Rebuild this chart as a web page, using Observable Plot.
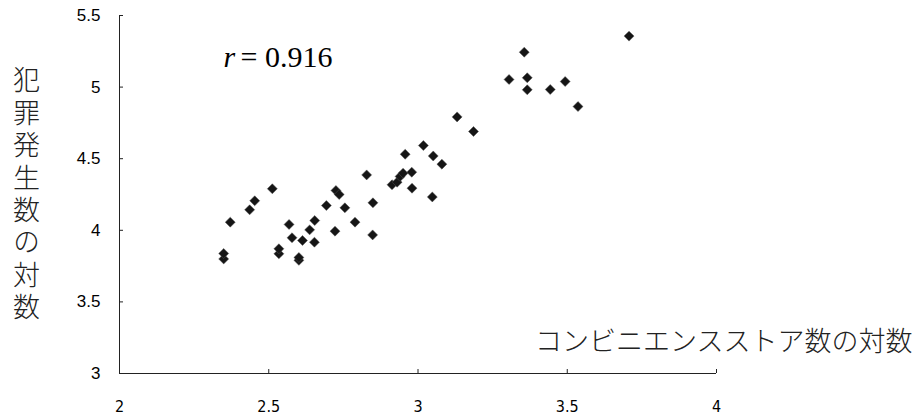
<!DOCTYPE html>
<html><head><meta charset="utf-8">
<script src="https://cdn.jsdelivr.net/npm/d3@7"></script>
<script src="https://cdn.jsdelivr.net/npm/@observablehq/plot@0.6"></script>
<style>body{margin:0;background:#fff;overflow:hidden}</style>
</head><body><div id="chart"></div>
<script>
// log of convenience-store counts (x) and log of crime counts (y), per prefecture
const storeLog = [2.349, 2.349, 2.371, 2.436, 2.453, 2.512, 2.534, 2.534, 2.568, 2.578,
  2.601, 2.601, 2.613, 2.637, 2.654, 2.653, 2.693, 2.722, 2.725, 2.736,
  2.755, 2.789, 2.828, 2.849, 2.848, 2.913, 2.930, 2.940, 2.950, 2.957,
  2.979, 2.980, 3.018, 3.051, 3.080, 3.048, 3.131, 3.186, 3.305, 3.356,
  3.366, 3.366, 3.443, 3.493, 3.536, 3.707];
const crimeLog = [3.800, 3.838, 4.057, 4.143, 4.206, 4.290, 3.836, 3.871, 4.041, 3.948,
  3.790, 3.810, 3.929, 4.003, 4.068, 3.917, 4.173, 3.994, 4.278, 4.250,
  4.157, 4.057, 4.387, 4.192, 3.968, 4.318, 4.336, 4.376, 4.399, 4.531,
  4.406, 4.294, 4.592, 4.519, 4.462, 4.233, 4.792, 4.690, 5.053, 5.244,
  5.065, 4.981, 4.983, 5.039, 4.864, 5.356];
const xTicks = [2, 2.5, 3, 3.5, 4];
const yTicks = [3, 3.5, 4, 4.5, 5, 5.5];
const xTitle = "コンビニエンスストア数の対数";
const yTitle = "犯罪発生数の対数";
const rSymbol = "r";
const rValue = "= 0.916";

const points = storeLog.map((x, i) => ({x, y: crimeLog[i]}));
const cjk = "'Noto Sans CJK JP', sans-serif";

const chart = Plot.plot({
  width: 917, height: 419,
  marginLeft: 119, marginRight: 201, marginTop: 15, marginBottom: 46,
  x: {domain: [2, 4]},
  y: {domain: [3, 5.5]},
  style: {background: "#fff", color: "#000", overflow: "visible"},
  marks: [
    Plot.ruleY([3], {stroke: "#222", strokeWidth: 1}),
    Plot.ruleX([2], {stroke: "#222", strokeWidth: 1}),
    Plot.axisX({ticks: xTicks, tickSize: -4, tickPadding: 31, tickFormat: d => String(d),
      fontSize: 16, fontFamily: "'Liberation Sans Narrow', 'DejaVu Sans Condensed', sans-serif", label: null, stroke: "#222"}),
    Plot.axisY({ticks: yTicks, tickSize: -4, tickPadding: 23, tickFormat: d => String(d),
      fontSize: 17, fontFamily: "'Liberation Sans', Arial, sans-serif", label: null, stroke: "#222"}),
    Plot.dot(points, {x: "x", y: "y", symbol: "diamond2", r: 4.5, fill: "#151515", stroke: "#555", strokeWidth: 0.5}),
    Plot.text([yTitle], {text: d => d, frameAnchor: "left", dx: -93, dy: -7, textAnchor: "middle",
      fontSize: 27, fontFamily: cjk, fontWeight: 300, fill: "#222"}),
    Plot.text([xTitle], {text: d => d, frameAnchor: "bottom-right", textAnchor: "end", dx: 196, dy: -31,
      lineAnchor: "middle", fontSize: 27, fontFamily: cjk, fontWeight: 300, fill: "#222"}),
    Plot.text([rSymbol], {text: d => d, frameAnchor: "top-left", textAnchor: "start", dx: 104, dy: 42,
      lineAnchor: "middle", fontSize: 30, fontStyle: "italic", fontFamily: "'Liberation Serif', serif"}),
    Plot.text([rValue], {text: d => d, frameAnchor: "top-left", textAnchor: "start", dx: 121, dy: 42,
      lineAnchor: "middle", fontSize: 30, fontFamily: "'Liberation Serif', serif"})
  ]
});
// set the y-axis title in vertical (top-to-bottom) writing
d3.select(chart).selectAll("text").filter(function () { return this.textContent === yTitle; })
  .attr("dy", null)
  .style("writing-mode", "vertical-rl")
  .style("text-orientation", "upright")
  .style("letter-spacing", "5.4px")
  .selectAll("tspan").attr("dy", null);
document.getElementById("chart").append(chart);
</script>
</body></html>
